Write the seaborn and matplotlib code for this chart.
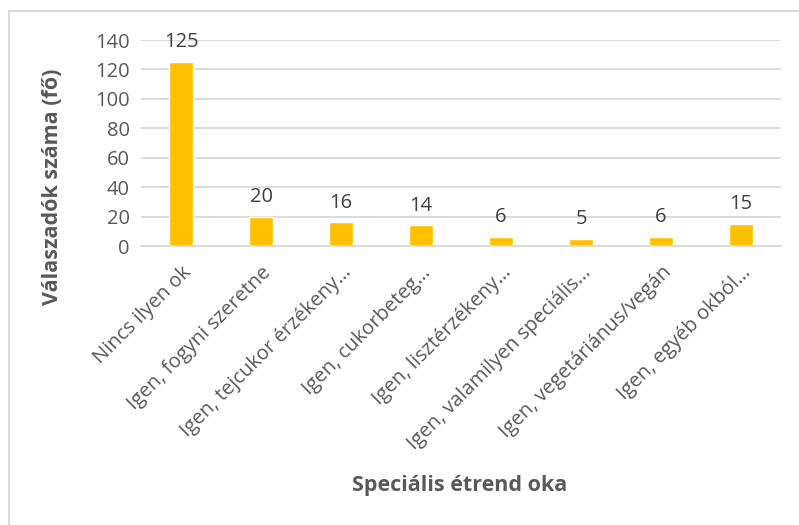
import matplotlib
matplotlib.use('Agg')
import matplotlib.pyplot as plt
import seaborn as sns
import pandas as pd
from matplotlib.lines import Line2D

# data
categories = ['Nincs ilyen ok', 'Igen, fogyni szeretne', 'Igen, tejcukor érzékeny…',
              'Igen, cukorbeteg…', 'Igen, lisztérzékeny…', 'Igen, valamilyen speciális…',
              'Igen, vegetáriánus/vegán', 'Igen, egyéb okból…']
counts = [125, 20, 16, 14, 6, 5, 6, 15]
yticks = [0, 20, 40, 60, 80, 100, 120, 140]

df = pd.DataFrame({'ok': categories, 'fo': counts})

sns.set_style('white')
plt.rcParams['font.family'] = ['Open Sans', 'DejaVu Sans']
grey = '#595959'

fig = plt.figure(figsize=(7.99, 5.25), dpi=100)
ax = fig.add_axes([0.1765, 0.5314, 0.801, 0.3924])

sns.barplot(data=df, x='ok', y='fo', color='#FFC000', saturation=1, width=0.31, ax=ax)

# value labels
for i, v in enumerate(counts):
    ax.annotate(str(v), (i, v), xytext=(0, 7), textcoords='offset points',
                ha='center', va='bottom', fontsize=14.5, color='#404040')

ax.set_ylim(0, 140)
ax.set_yticks(yticks)
ax.set_xlim(-0.5, len(categories) - 0.5)
ax.yaxis.grid(True, color='#d9d9d9', linewidth=1.3)
ax.set_axisbelow(True)
for s in ['top', 'right', 'left']:
    ax.spines[s].set_visible(False)
ax.spines['bottom'].set_color('#d9d9d9')
ax.spines['bottom'].set_linewidth(1.3)
ax.tick_params(axis='y', length=0, labelsize=14.5, colors=grey, pad=8)
ax.tick_params(axis='x', length=0, labelsize=14.5, colors=grey, pad=12)
plt.setp(ax.get_xticklabels(), rotation=45, ha='right', rotation_mode='anchor')

ax.set_xlabel('')
ax.set_ylabel('')
# axis titles placed as in the reference
fig.text(460 / 799, 1 - 485 / 525, 'Speciális étrend oka', fontsize=15.5, fontweight='bold',
         color=grey, ha='center', va='center')
fig.text(53 / 799, 1 - 187 / 525, 'Válaszadók száma (fő)', fontsize=15.5, fontweight='bold',
         color=grey, ha='center', va='center', rotation=90)

# chart frame (left and top edges)
fig.lines.append(Line2D([9 / 799, 9 / 799], [0, 1 - 11 / 525], transform=fig.transFigure,
                        color='#d9d9d9', linewidth=1.5))
fig.lines.append(Line2D([9 / 799, 1], [1 - 11 / 525, 1 - 11 / 525], transform=fig.transFigure,
                        color='#d9d9d9', linewidth=1.5))

fig.savefig('out.png', dpi=100)
